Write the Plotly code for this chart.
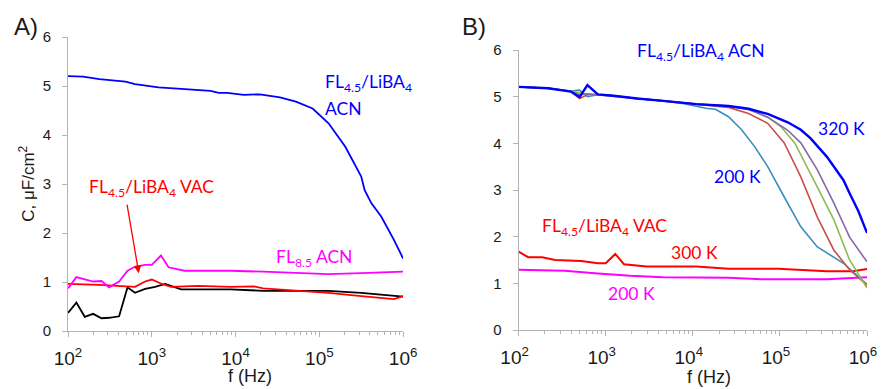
import numpy as np
import plotly.graph_objects as go

# ---------------- Panel A data (log10 of f in Hz, C in uF/cm2) ----------------
a_acn_logf = [2.0, 2.18, 2.375, 2.686, 2.80, 3.08, 3.35, 3.70, 3.80, 3.90, 4.10, 4.29, 4.53, 4.72, 4.92, 5.11, 5.31, 5.50, 5.54, 5.62, 5.74, 5.89, 6.0]
a_acn_c = [5.20, 5.19, 5.14, 5.09, 5.04, 4.97, 4.94, 4.90, 4.86, 4.86, 4.82, 4.83, 4.77, 4.68, 4.54, 4.24, 3.76, 3.15, 2.88, 2.61, 2.33, 1.86, 1.48]

a_fl85acn_logf = [2.0, 2.10, 2.30, 2.40, 2.49, 2.61, 2.71, 2.80, 2.92, 3.0, 3.11, 3.20, 3.39, 3.94, 4.33, 4.72, 5.11, 5.50, 6.0]
a_fl85acn_c = [0.87, 1.10, 1.01, 1.02, 0.89, 1.01, 1.23, 1.31, 1.35, 1.35, 1.54, 1.30, 1.23, 1.23, 1.21, 1.18, 1.16, 1.18, 1.21]

a_vac_logf = [2.0, 2.37, 2.80, 2.92, 3.0, 3.12, 3.23, 3.55, 3.94, 4.22, 4.33, 4.72, 5.11, 5.50, 5.89, 6.0]
a_vac_c = [0.96, 0.94, 0.90, 1.01, 1.05, 0.96, 0.90, 0.92, 0.90, 0.91, 0.87, 0.83, 0.78, 0.71, 0.65, 0.71]

a_fl85vac_logf = [2.0, 2.10, 2.20, 2.30, 2.40, 2.49, 2.61, 2.71, 2.80, 2.92, 3.04, 3.16, 3.35, 3.94, 4.33, 5.11, 5.50, 6.0]
a_fl85vac_c = [0.37, 0.58, 0.29, 0.35, 0.26, 0.27, 0.30, 0.89, 0.78, 0.86, 0.90, 0.96, 0.85, 0.85, 0.82, 0.82, 0.78, 0.70]

# ---------------- Panel B data ----------------
b_320_logf = [2.0, 2.34, 2.60, 2.70, 2.79, 2.91, 3.09, 3.36, 3.66, 4.04, 4.41, 4.64, 4.86, 5.09, 5.24, 5.35, 5.54, 5.62, 5.73, 5.80, 5.90, 6.0]
b_320_c = [5.21, 5.18, 5.11, 4.99, 5.25, 5.05, 5.02, 4.96, 4.91, 4.84, 4.80, 4.74, 4.63, 4.45, 4.29, 4.11, 3.71, 3.49, 3.21, 2.93, 2.55, 2.08]

b_200_logf = [2.0, 2.34, 2.60, 2.70, 2.79, 2.91, 3.09, 3.36, 3.66, 3.90, 4.15, 4.26, 4.41, 4.56, 4.71, 4.86, 5.05, 5.24, 5.43, 5.73, 6.0]
b_200_c = [5.21, 5.18, 5.12, 5.14, 5.00, 5.04, 5.02, 4.96, 4.91, 4.85, 4.75, 4.73, 4.57, 4.29, 3.93, 3.50, 2.85, 2.21, 1.78, 1.43, 0.98]

b_240_logf = [2.0, 2.34, 2.60, 2.70, 2.79, 2.91, 3.09, 3.36, 3.66, 4.04, 4.41, 4.64, 4.86, 5.05, 5.24, 5.43, 5.62, 5.80, 6.0]
b_240_c = [5.21, 5.18, 5.11, 4.96, 5.04, 5.04, 5.02, 4.96, 4.91, 4.84, 4.77, 4.64, 4.43, 4.01, 3.28, 2.42, 1.71, 1.29, 0.96]

b_260_logf = [2.0, 2.34, 2.60, 2.70, 2.79, 2.91, 3.09, 3.36, 3.66, 4.04, 4.41, 4.64, 4.86, 5.01, 5.17, 5.30, 5.43, 5.62, 5.80, 6.0]
b_260_c = [5.21, 5.18, 5.12, 5.08, 5.05, 5.04, 5.02, 4.96, 4.91, 4.84, 4.80, 4.72, 4.56, 4.36, 4.01, 3.55, 3.06, 2.36, 1.50, 0.90]

b_280_logf = [2.0, 2.34, 2.60, 2.70, 2.79, 2.91, 3.09, 3.36, 3.66, 4.04, 4.41, 4.64, 4.86, 5.09, 5.24, 5.43, 5.62, 5.80, 6.0]
b_280_c = [5.21, 5.18, 5.11, 5.04, 5.06, 5.04, 5.02, 4.96, 4.91, 4.84, 4.80, 4.73, 4.56, 4.28, 4.01, 3.43, 2.72, 1.99, 1.46]

b_vac300_logf = [2.0, 2.11, 2.27, 2.42, 2.72, 2.91, 3.0, 3.11, 3.21, 3.47, 4.04, 4.41, 4.98, 5.54, 5.84, 6.0]
b_vac300_c = [1.68, 1.56, 1.56, 1.50, 1.48, 1.43, 1.43, 1.63, 1.41, 1.36, 1.36, 1.31, 1.31, 1.26, 1.26, 1.31]

b_vac200_logf = [2.0, 2.53, 2.91, 3.28, 3.66, 4.41, 4.79, 5.54, 6.0]
b_vac200_c = [1.29, 1.27, 1.21, 1.16, 1.13, 1.12, 1.09, 1.09, 1.13]

y_ticks = [0, 1, 2, 3, 4, 5, 6]
x_ticks = [1e2, 1e3, 1e4, 1e5, 1e6]
x_ticktext = ["10<sup>2</sup>", "10<sup>3</sup>", "10<sup>4</sup>", "10<sup>5</sup>", "10<sup>6</sup>"]
x_minor_ticks = [m * d for d in (1e2, 1e3, 1e4, 1e5) for m in range(2, 10)]

def hz(logs):
    return 10 ** np.array(logs)

fig = go.Figure()

def add(logf, c, color, width, xa, ya):
    fig.add_trace(go.Scatter(x=hz(logf), y=c, mode="lines",
                             line=dict(color=color, width=width),
                             xaxis=xa, yaxis=ya, showlegend=False, hoverinfo="skip"))

# Panel A
add(a_fl85vac_logf, a_fl85vac_c, "#000000", 1.8, "x", "y")
add(a_vac_logf, a_vac_c, "#ff0000", 1.8, "x", "y")
add(a_fl85acn_logf, a_fl85acn_c, "#ff00ff", 1.8, "x", "y")
add(a_acn_logf, a_acn_c, "#0000ff", 1.8, "x", "y")

# Panel B
add(b_vac200_logf, b_vac200_c, "#ff00ff", 2, "x2", "y2")
add(b_vac300_logf, b_vac300_c, "#ff0000", 2, "x2", "y2")
add(b_200_logf, b_200_c, "#3a8dbf", 1.6, "x2", "y2")
add(b_240_logf, b_240_c, "#c9504a", 1.6, "x2", "y2")
add(b_260_logf, b_260_c, "#8fbb4f", 1.6, "x2", "y2")
add(b_280_logf, b_280_c, "#8668a6", 1.6, "x2", "y2")
add(b_320_logf, b_320_c, "#0000ff", 2.4, "x2", "y2")

axis_color = "#b3b3b3"
tick_font_col = "#1a1a1a"

xcommon = dict(type="log", range=[2, 6], showgrid=False, zeroline=False,
               showline=True, linecolor=axis_color, linewidth=1,
               ticks="outside", ticklen=5, tickcolor=axis_color,
               tickvals=x_ticks, ticktext=x_ticktext, ticklabelstandoff=5,
               tickfont=dict(family="Liberation Sans, Arial", size=19, color=tick_font_col),
               minor=dict(ticks="outside", ticklen=3, tickcolor=axis_color,
                          tickmode="array", tickvals=x_minor_ticks, showgrid=False))
ycommon = dict(range=[0, 6], showgrid=False, zeroline=False,
               showline=True, linecolor=axis_color, linewidth=1,
               ticks="outside", ticklen=5, tickcolor=axis_color,
               tickvals=y_ticks, ticklabelstandoff=8,
               tickfont=dict(family="Liberation Sans, Arial", size=15, color=tick_font_col))

W, H = 891, 389
ml, mr, mt, mb = 68, 10, 37, 58
pw = W - ml - mr
ph = H - mt - mb

def px(xpix):
    return (xpix - ml) / pw

def py(ypix):
    return (H - mb - ypix) / ph

fig.update_layout(
    width=W, height=H,
    margin=dict(l=ml, r=mr, t=mt, b=mb),
    paper_bgcolor="white", plot_bgcolor="white",
    xaxis=dict(domain=[0, px(409)], anchor="y", **xcommon),
    yaxis=dict(domain=[0, 1], anchor="x", **ycommon),
    xaxis2=dict(domain=[px(526.5), 1], anchor="y2", ticklabelshift=-4, **xcommon),
    yaxis2=dict(domain=[py(330), py(50)], anchor="x2", **ycommon),
)

ann_font = "Lato, Open Sans, sans-serif"
anns = []

def txt(x, y, text, color, xref="x", yref="y", size=17.5, xanchor="left"):
    anns.append(dict(x=x, y=y, xref=xref, yref=yref, text=text, showarrow=False,
                     xanchor=xanchor, yanchor="middle",
                     font=dict(family=ann_font, size=size, color=color)))

# Panel A labels
txt(5.04, 5.06, "FL<sub>4.5</sub>/LiBA<sub>4</sub>", "#0000ff")
txt(5.04, 4.55, "ACN", "#0000ff")
txt(2.23, 2.92, "FL<sub>4.5</sub>/LiBA<sub>4</sub> VAC", "#ff0000")
txt(4.46, 1.49, "FL<sub>8.5</sub> ACN", "#ff00ff")
txt(6.25, 0.245, "FL<sub>8.5</sub> VAC", "#000000", xanchor="right")
anns.append(dict(x=2.845, y=1.18, xref="x", yref="y", ax=-12, ay=-70,
                 showarrow=True, arrowhead=2, arrowsize=1.2, arrowwidth=1.3,
                 arrowcolor="#ff0000", text=""))

# Panel B labels
txt(3.34, 5.96, "FL<sub>4.5</sub>/LiBA<sub>4</sub> ACN", "#0000ff", "x2", "y2")
txt(5.41, 4.31, "320 K", "#0000ff", "x2", "y2")
txt(4.22, 3.28, "200 K", "#0000ff", "x2", "y2")
txt(2.24, 2.21, "FL<sub>4.5</sub>/LiBA<sub>4</sub> VAC", "#ff0000", "x2", "y2")
txt(3.73, 1.67, "300 K", "#ff0000", "x2", "y2")
txt(3.0, 0.79, "200 K", "#ff00ff", "x2", "y2")

# Panel letters and axis titles
def ptxt(xpix, ypix, text, size, angle=0, color="#1a1a1a", family="Liberation Sans, Arial"):
    anns.append(dict(x=px(xpix), y=py(ypix), xref="paper", yref="paper", text=text,
                     showarrow=False, xanchor="center", yanchor="middle", textangle=angle,
                     font=dict(family=family, size=size, color=color)))

ptxt(25, 26, "A)", 24)
ptxt(481, 26, "B)", 24)
ptxt(253, 376, "f (Hz)", 18)
ptxt(720, 377, "f (Hz)", 18)
ptxt(26, 184, "C, μF/cm<sup>2</sup>", 17, angle=-90)

fig.update_layout(annotations=anns)

fig.write_html("out.html", config={"displayModeBar": False},
               post_script="document.body.style.margin='0';document.body.style.overflow='hidden';")
